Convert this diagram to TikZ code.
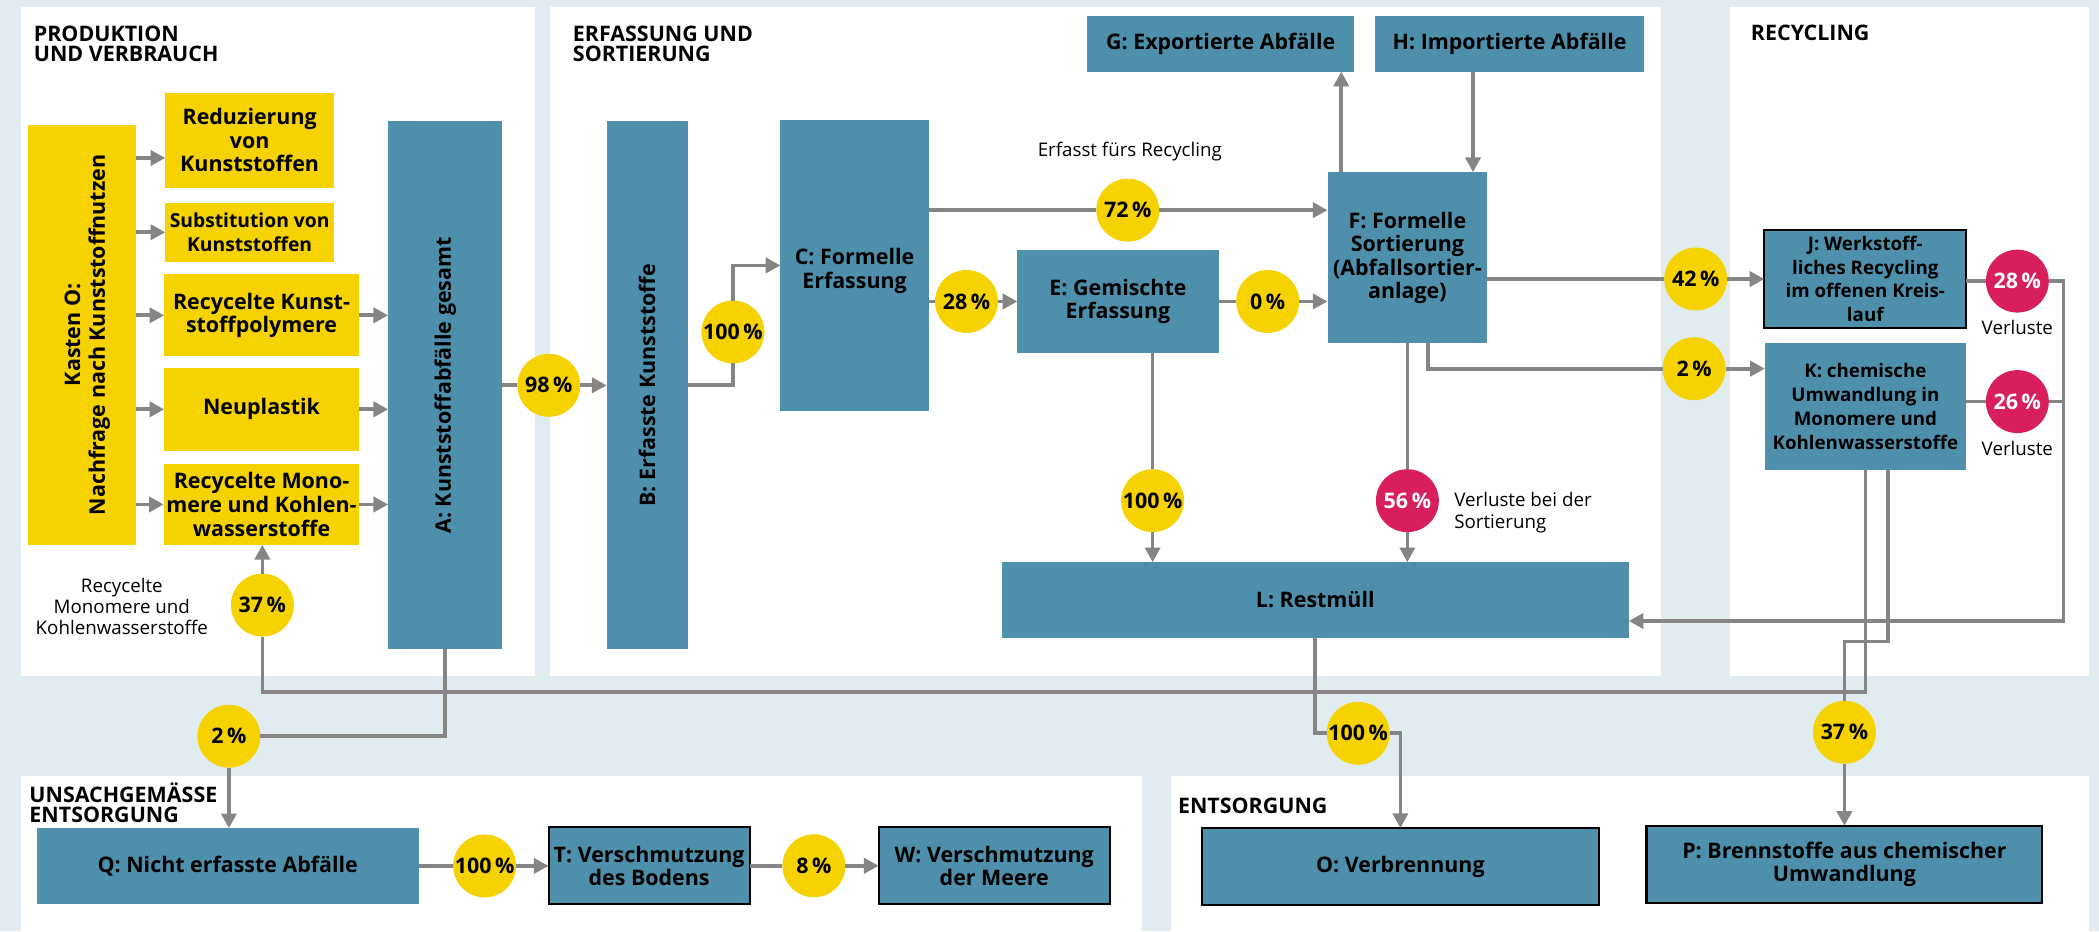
\documentclass[tikz,border=0pt]{standalone}
\usepackage{fontspec}
\setmainfont{Open Sans}
\usetikzlibrary{arrows.meta}
\definecolor{bgc}{HTML}{E1ECF1}
\definecolor{boxblue}{HTML}{4E90AB}
\definecolor{ylw}{HTML}{F5D200}
\definecolor{rd}{HTML}{D81E5B}
\definecolor{lng}{HTML}{858585}
\begin{document}
\begin{tikzpicture}[x=0.5pt,y=-0.5pt,
  every node/.style={inner sep=0pt, outer sep=0pt},
  box/.style={inner sep=1pt, align=center, font=\fontsize{8}{8.8}\selectfont\bfseries},
  ybox/.style={box, fill=ylw},
  bbox/.style={box, fill=boxblue},
  kbox/.style={bbox, draw=black, line width=0.8pt},
  sz/.style 2 args={minimum width=#1pt, minimum height=#2pt},
  rot/.style={rotate=90, align=center, font=\fontsize{8}{9.25}\selectfont\bfseries},
  pct/.style={circle, fill=ylw, minimum size=23.5pt, font=\fontsize{8}{9}\selectfont\bfseries},
  loss/.style={pct, fill=rd, text=white},
  ttl/.style={anchor=north west, align=left, font=\fontsize{8}{7.6}\selectfont\bfseries},
  lbl/.style={font=\fontsize{7}{8}\selectfont, align=center},
  ln/.style={draw=lng, line width=1.4pt},
  arr/.style={ln, -{Triangle[length=5.5pt,width=5.6pt]}},
]
\fill[bgc] (0,0) rectangle (1568,695.5);
\useasboundingbox (0,0) rectangle (1568,695.5);
% panels
\fill[white] (16,5) rectangle (400,505);
\fill[white] (411,5) rectangle (1240.5,505);
\fill[white] (1292,5) rectangle (1560.5,505);
\fill[white] (15.5,580) rectangle (853,695.5);
\fill[white] (875,580) rectangle (1560.5,695.5);
% titles
\node[ttl] (t1) at (25.3,19.4) {PRODUKTION\\UND VERBRAUCH};
\node[ttl] (t2) at (428,19.4) {ERFASSUNG UND\\SORTIERUNG};
\node[ttl] (t3) at (1308,19) {RECYCLING};
\node[ttl] (t4) at (22,584.5) {UNSACHGEMÄSSE\\ENTSORGUNG};
\node[ttl] (t5) at (880,596) {ENTSORGUNG};
% yellow boxes
\node[ybox, sz={40.4}{156.85}, label={[xshift=2pt, rot]center:{Kasten O:\\Nachfrage nach Kunststoffnutzen}}] (O) at (61.2,250.15) {};
\node[ybox, sz={63}{35.5}] (R1) at (186.5,104.8) {Reduzierung\\von\\Kunststoffen};
\node[ybox, sz={63}{21.9}, font=\fontsize{7.2}{9}\selectfont\bfseries] (R2) at (186.5,173.5) {Substitution von\\Kunststoffen};
\node[ybox, sz={72.65}{30.75}] (R3) at (195.35,235.55) {Recycelte Kunst-\\stoffpolymere};
\node[ybox, sz={72.65}{30.8}] (R4) at (195.35,305.8) {Neuplastik};
\node[ybox, sz={72.65}{30.15}] (R5) at (195.35,376.85) {Recycelte Mono-\\mere und Kohlen-\\wasserstoffe};
% blue boxes
\node[bbox, sz={42.6}{197.15}, label={[rot]center:{A: Kunststoffabfälle gesamt}}] (A) at (332.6,287.85) {};
\node[bbox, sz={30.2}{197.15}, label={[rot]center:{B: Erfasste Kunststoffe}}] (B) at (483.4,287.85) {};
\node[bbox, sz={55.35}{108.55}, label={[box, yshift=-2pt]center:{C: Formelle\\Erfassung}}] (C) at (638.35,198.25) {};
\node[bbox, sz={75.15}{38.2}] (E) at (835.15,225.2) {E: Gemischte\\Erfassung};
\node[bbox, sz={59.65}{64}] (F) at (1051.35,192.6) {F: Formelle\\Sortierung\\(Abfallsortier-\\anlage)};
\node[bbox, sz={99.85}{20.6}] (G) at (911.85,32.9) {G: Exportierte Abfälle};
\node[bbox, sz={100.7}{20.6}] (H) at (1127.7,32.9) {H: Importierte Abfälle};
\node[bbox, sz={234.15}{28.15}] (L) at (982.55,448.15) {L: Restmüll};
\node[kbox, sz={75.4}{36.85}, font=\fontsize{7}{8.8}\selectfont\bfseries] (J) at (1393.4,208.45) {J: Werkstoff-\\liches Recycling\\im offenen Kreis-\\lauf};
\node[bbox, sz={75.1}{47.5}, font=\fontsize{7}{8.9}\selectfont\bfseries] (K) at (1393.5,303.8) {K: chemische\\Umwandlung in\\Monomere und\\Kohlenwasserstoffe};
\node[bbox, sz={142.75}{28.15}] (Q) at (170.15,646.85) {Q: Nicht erfasste Abfälle};
\node[kbox, sz={75.1}{28.75}] (T) at (484.9,646.75) {T: Verschmutzung\\des Bodens};
\node[kbox, sz={86.3}{28.75}] (W) at (742.7,646.75) {W: Verschmutzung\\der Meere};
\node[kbox, sz={148.1}{28.7}] (O2) at (1046.1,647.3) {O: Verbrennung};
\node[kbox, sz={147.8}{28.7}] (P) at (1377.8,645.6) {P: Brennstoffe aus chemischer\\Umwandlung};
% percentage circles
\node[pct] (c98) at (410,287.85) {98\,\%};
\node[pct] (c37a) at (196,452) {37\,\%};
\node[pct] (c100a) at (547.5,248) {100\,\%};
\node[pct] (c72) at (842.5,157) {72\,\%};
\node[pct] (c28) at (722,225.2) {28\,\%};
\node[pct] (c0) at (947,225.2) {0\,\%};
\node[pct] (c100b) at (861,374) {100\,\%};
\node[loss] (c56) at (1051.35,374) {56\,\%};
\node[pct] (c42) at (1266.7,208.45) {42\,\%};
\node[pct] (c2a) at (1265.5,275.4) {2\,\%};
\node[loss] (c28r) at (1507,210) {28\,\%};
\node[loss] (c26r) at (1507,300) {26\,\%};
\node[pct] (c2b) at (171,550) {2\,\%};
\node[pct] (c37b) at (1377.8,547) {37\,\%};
\node[pct] (c100c) at (1014.6,547.8) {100\,\%};
\node[pct] (c100d) at (362,646.85) {100\,\%};
\node[pct] (c8) at (608,646.75) {8\,\%};
% labels
\node[lbl] (l1) at (844,113) {Erfasst fürs Recycling};
\node[lbl] (l2) at (91,453) {Recycelte\\Monomere und\\Kohlenwasserstoffe};
\node[lbl, anchor=west, align=left] (l3) at (1086.4,383) {Verluste bei der\\Sortierung};
\node[lbl] (l4) at (1507,244.4) {Verluste};
\node[lbl] (l5) at (1507,335.3) {Verluste};
% connectors
\coordinate (r1in) at ([yshift=-6.6pt]R1.west);
\draw[arr] (O.east |- r1in) -- (r1in);
\foreach \n in {R2,R3,R4,R5} \draw[arr] (O.east |- \n.west) -- (\n.west);
\foreach \n in {R3,R4,R5} \draw[arr] (\n.east) -- (\n.east -| A.west);
\draw[ln] (A.east) -- (c98);
\draw[arr] (c98) -- (B.west);
\draw[ln] (B.east) -| (c100a);
\draw[arr] (c100a) |- (C.west);
\draw[ln] (C.east |- c72) -- (c72);
\draw[arr] (c72) -- (F.west |- c72);
\draw[ln] (C.east |- E) -- (c28);
\draw[arr] (c28) -- (E.west);
\draw[ln] (E.east) -- (c0);
\draw[arr] (c0) -- (F.west |- c0);
\coordinate (fg) at ([xshift=-24.7pt]F.north);
\draw[arr] (fg) -- (fg |- G.south);
\coordinate (hf) at ([xshift=24.5pt]F.north);
\draw[arr] (hf |- H.south) -- (hf);
\draw[ln] (E.south -| c100b) -- (c100b);
\draw[arr] (c100b) -- (c100b |- L.north);
\draw[ln] (F.south) -- (c56);
\draw[arr] (c56) -- (c56 |- L.north);
\draw[ln] (F.east |- J) -- (c42);
\draw[arr] (c42) -- (J.west);
\draw[ln] ([xshift=7.8pt]F.south) |- (c2a);
\draw[arr] (c2a) -- (c2a -| K.west);
\coordinate (lr) at (1541.5,463.9);
\draw[ln] (J.east |- c28r) -- (c28r);
\draw[arr] (c28r) -| (lr) -- (lr -| L.east);
\draw[ln] (K.east |- c26r) -- (c26r);
\draw[ln] (c26r) -- (c26r -| lr);
\coordinate (bk) at (196,517.2);
\draw[ln] (K.south) |- (bk) -- (c37a);
\draw[arr] (c37a) -- (c37a |- R5.south);
\coordinate (jg) at (1377.8,479.3);
\draw[ln] ([xshift=8.4pt]K.south) |- (jg) -- (c37b);
\draw[arr] (c37b) -- (P.north);
\draw[ln] (A.south) |- (c2b);
\draw[arr] (c2b) -- (c2b |- Q.north);
\draw[ln] (L.south) |- (c100c);
\draw[arr] (c100c) -| (O2.north);
\draw[ln] (Q.east) -- (c100d);
\draw[arr] (c100d) -- (T.west |- c100d);
\draw[ln] (T.east) -- (c8);
\draw[arr] (c8) -- (W.west);
\end{tikzpicture}
\end{document}
